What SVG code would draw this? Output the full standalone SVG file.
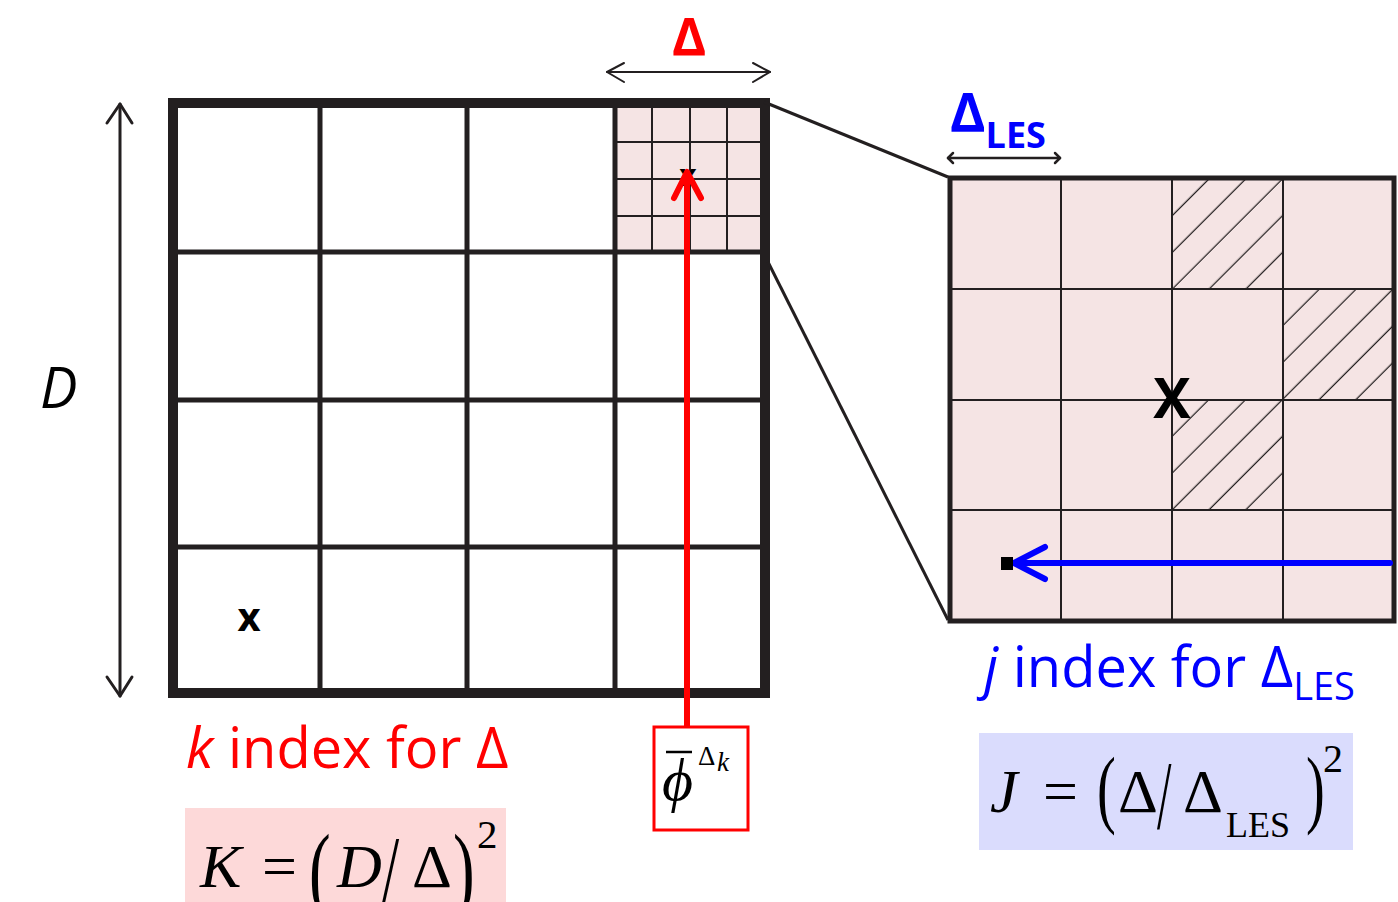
<svg xmlns="http://www.w3.org/2000/svg" width="1398" height="902" viewBox="0 0 1398 902">
<style>
.blk{stroke:#231f20;fill:none}
.sans{font-family:"Open Sans","Liberation Sans",sans-serif}
.serif{font-family:"Liberation Serif","Times New Roman",serif}
.red{fill:#ff0000}
.blue{fill:#0000ff}
</style>
<defs>
<pattern id="hatch" patternUnits="userSpaceOnUse" width="40" height="26" patternTransform="rotate(-45)">
<line x1="-2" y1="19.34" x2="42" y2="19.34" stroke="#231f20" stroke-width="1.4"/>
</pattern>
</defs>
<rect width="1398" height="902" fill="#ffffff"/>

<g id="coarse-grid">
<rect x="617" y="108" width="143" height="142" fill="#f5e4e4"/>
<g class="blk" stroke-width="2">
<line x1="652" y1="108" x2="652" y2="250"/>
<line x1="690" y1="108" x2="690" y2="250"/>
<line x1="727" y1="108" x2="727" y2="250"/>
<line x1="617" y1="142" x2="760" y2="142"/>
<line x1="617" y1="179" x2="760" y2="179"/>
<line x1="617" y1="216" x2="760" y2="216"/>
</g>
<g class="blk" stroke-width="5">
<line x1="320" y1="103" x2="320" y2="693"/>
<line x1="467" y1="103" x2="467" y2="693"/>
<line x1="615" y1="103" x2="615" y2="693"/>
<line x1="173" y1="252" x2="765" y2="252"/>
<line x1="173" y1="400" x2="765" y2="400"/>
<line x1="173" y1="547" x2="765" y2="547"/>
</g>
<rect x="173" y="103" width="592" height="590" class="blk" stroke-width="10"/>
<text x="249" y="631" class="sans" font-weight="bold" font-size="40" text-anchor="middle">x</text>
<text x="688" y="186" class="sans" font-weight="bold" font-size="30" text-anchor="middle">x</text>
</g>

<g id="fine-grid">
<rect x="950" y="178" width="444" height="443" fill="#f5e4e4"/>
<rect x="1172" y="178" width="111" height="111" fill="url(#hatch)"/>
<rect x="1283" y="289" width="111" height="111" fill="url(#hatch)"/>
<rect x="1172" y="400" width="111" height="110" fill="url(#hatch)"/>
<g class="blk" stroke-width="2">
<line x1="1061" y1="178" x2="1061" y2="621"/>
<line x1="1172" y1="178" x2="1172" y2="621"/>
<line x1="1283" y1="178" x2="1283" y2="621"/>
<line x1="950" y1="289" x2="1394" y2="289"/>
<line x1="950" y1="400" x2="1394" y2="400"/>
<line x1="950" y1="510" x2="1394" y2="510"/>
</g>
<rect x="950" y="178" width="444" height="443" class="blk" stroke-width="5"/>
<text x="1172" y="418" class="sans" font-weight="bold" font-size="56" text-anchor="middle">X</text>
</g>

<g id="connectors">
<line x1="764" y1="102" x2="948" y2="177" class="blk" stroke-width="3"/>
<line x1="768" y1="262" x2="948" y2="620" class="blk" stroke-width="3"/>
<g class="blk" stroke-width="3" stroke-linecap="round" stroke-linejoin="round">
<line x1="120" y1="104" x2="120" y2="696"/>
<polyline points="107,123 120,104 132,123"/>
<polyline points="107,677 120,696 132,677"/>
</g>
<g class="blk" stroke-width="2" stroke-linecap="round" stroke-linejoin="round">
<line x1="607" y1="72" x2="770" y2="72"/>
<polyline points="624,63 607,72 624,82"/>
<polyline points="753,63 770,72 753,82"/>
</g>
<g class="blk" stroke-width="2.5" stroke-linecap="round" stroke-linejoin="round">
<line x1="948" y1="158" x2="1060" y2="158"/>
<polyline points="953,153 948,158 953,163"/>
<polyline points="1055,153 1060,158 1055,163"/>
</g>
<g stroke="#0000ff" fill="none" stroke-width="6" stroke-linecap="round" stroke-linejoin="round">
<line x1="1015" y1="563" x2="1390" y2="563"/>
<polyline points="1045,547 1014,563 1045,579"/>
</g>
<rect x="1001" y="557" width="12" height="13" fill="#000000"/>
<g stroke="#ff0000" fill="none" stroke-width="6" stroke-linecap="round" stroke-linejoin="round">
<line x1="687" y1="727" x2="687" y2="174"/>
<polyline points="674,198 687,172 701,198"/>
</g>
</g>

<g id="labels">
<text x="689" y="55" class="sans red" font-weight="bold" font-size="52" text-anchor="middle">Δ</text>
<text x="950" y="132" class="sans blue" font-weight="bold"><tspan font-size="54">Δ</tspan><tspan font-size="36" y="148">LES</tspan></text>
<text x="40" y="408" class="sans" font-style="italic" font-size="56">D</text>
<text x="186" y="768" class="sans red" font-size="56"><tspan font-style="italic">k</tspan> index for Δ</text>
<text x="984" y="687" class="sans blue" font-size="56"><tspan font-style="italic">j</tspan> index for Δ<tspan font-size="38" y="700">LES</tspan></text>
</g>

<g id="phi-box">
<rect x="654" y="727" width="94" height="103" fill="#ffffff" stroke="#ff0000" stroke-width="3"/>
<line x1="666" y1="752" x2="692" y2="752" stroke="#000" stroke-width="2.5"/>
<text x="662" y="800" class="serif" font-style="italic" font-size="60">ϕ</text>
<text x="698" y="765" class="serif" font-size="27">Δ</text>
<text x="717" y="771" class="serif" font-style="italic" font-size="27">k</text>
</g>

<g id="K-formula">
<rect x="185" y="808" width="321" height="94" fill="#fdd9d9"/>
<text class="serif" font-size="62" y="887"><tspan x="200" font-style="italic">K</tspan><tspan x="262">=</tspan><tspan x="337" font-style="italic">D</tspan><tspan x="412">Δ</tspan></text>
<text class="serif" font-size="100" transform="translate(309,903) scale(0.65,1)">(</text>
<text class="serif" font-size="100" transform="translate(453,903) scale(0.65,1)">)</text>
<text class="serif" font-size="95" transform="translate(382,902) scale(0.65,1)">/</text>
<text class="serif" font-size="41" y="848" x="477">2</text>
</g>

<g id="J-formula">
<rect x="979" y="733" width="374" height="117" fill="#dadcfd"/>
<text class="serif" font-size="62" y="812"><tspan x="990" font-style="italic">J</tspan><tspan x="1043">=</tspan><tspan x="1118">Δ</tspan><tspan x="1183">Δ</tspan></text>
<text class="serif" font-size="36" y="837" x="1226">LES</text>
<text class="serif" font-size="87" transform="translate(1097,817) scale(0.65,1)">(</text>
<text class="serif" font-size="87" transform="translate(1306,817) scale(0.65,1)">)</text>
<text class="serif" font-size="98" transform="translate(1157,828) scale(0.53,1)">/</text>
<text class="serif" font-size="40" y="772" x="1323">2</text>
</g>
</svg>
